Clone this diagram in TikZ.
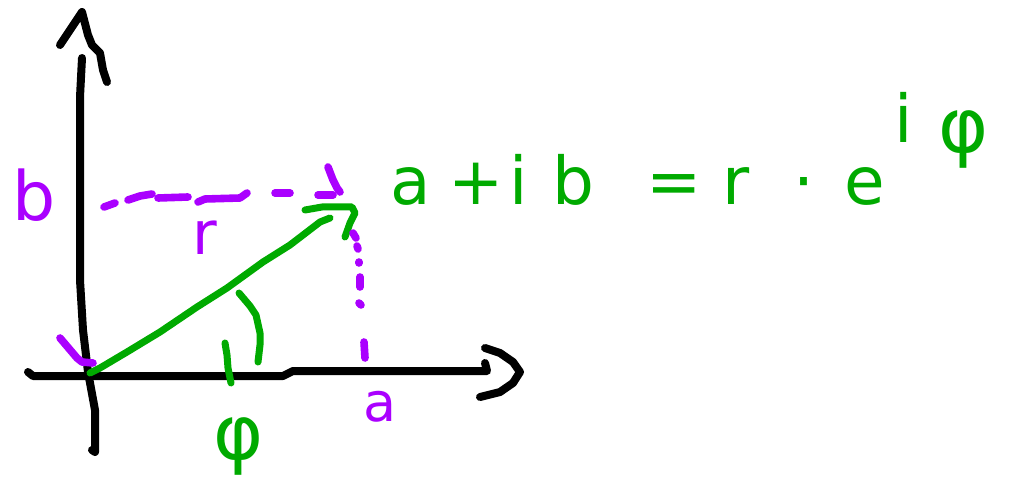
\documentclass[tikz,border=0pt]{standalone}
\usepackage{fontspec}
\setmainfont{DejaVu Sans}
\definecolor{hgreen}{RGB}{0,170,0}
\definecolor{hpurple}{RGB}{170,0,255}
\begin{document}
\begin{tikzpicture}[x=0.5pt,y=-0.5pt,line cap=round,line join=round,
  axisline/.style={draw=black,line width=4pt},
  vecline/.style={draw=hgreen,line width=3.5pt},
  guideline/.style={draw=hpurple,line width=3.8pt},
  lbl/.style={inner sep=0pt,outer sep=0pt}]
\useasboundingbox (0,0) rectangle (1015,480);
% vertical axis with arrowhead
\draw[axisline] (60,45) -- (82,12) -- (88,35) -- (92,45) -- (100,53) -- (103,70) -- (107,82);
\draw[axisline] (82,58) -- (80,97) -- (80,280) -- (83,330) -- (88,372) -- (95,410) -- (95,452) -- (92,450);
% horizontal axis with arrowhead
\draw[axisline] (28,372) -- (33,376) -- (283,376) -- (293,371) -- (487,371) -- (485,363);
\draw[axisline] (485,348) -- (500,353) -- (513,362) -- (520,372) -- (513,383) -- (500,392) -- (480,397);
% green vector
\draw[vecline] (90,373) -- (100,368) -- (127,352) -- (160,332) -- (197,307) -- (227,288) -- (263,262) -- (290,245) -- (320,222) -- (330,218);
\draw[vecline] (305,210) -- (322,207) -- (352,207) -- (355,213) -- (350,223) -- (345,237);
% angle arc and tick
\draw[vecline] (239,293) -- (250,306) -- (256,315) -- (260,333) -- (260,345) -- (258,362);
\draw[vecline] (225,343) -- (227,355) -- (228,368) -- (231,383);
% purple dashed horizontal guide
\draw[guideline] (104,207) -- (115,203);
\draw[guideline] (128,200) -- (140,196) -- (152,194);
\draw[guideline] (158,198) -- (188,197);
\draw[guideline] (198,202) -- (205,199) -- (240,198) -- (247,193);
\draw[guideline] (275,193) -- (290,193);
\draw[guideline] (318,195) -- (333,195);
\draw[guideline] (328,167) -- (333,180) -- (337,188) -- (340,192);
% purple dotted vertical guide
\draw[guideline] (353,233) -- (356,238);
\draw[guideline] (357,246) -- (358,249);
\draw[guideline] (359,262) -- (359,263);
\draw[guideline] (360,277) -- (360,287);
\draw[guideline] (359,303) -- (361,305);
\draw[guideline] (364,342) -- (365,358);
% purple origin mark
\draw[guideline] (60,338) -- (77,358) -- (82,362) -- (93,363);
% labels
\node[lbl,text=hpurple,font=\fontsize{34}{40}\selectfont] (lb) at (34,195) {b};
\node[lbl,text=hpurple,font=\fontsize{30}{36}\selectfont] (lr) at (205,238) {r};
\node[lbl,text=hpurple,font=\fontsize{27}{32}\selectfont] (la) at (380,407) {a};
\node[lbl,text=hgreen,font=\fontsize{38}{44}\selectfont] (lphi) at (239,446) {φ};
% equation
\node[lbl,text=hgreen,anchor=base west,font=\fontsize{33}{38}\selectfont] (eq) at (390,205)
  {a\hspace{9pt}+\hspace{3pt}i\hspace{12pt}b\hspace{26pt}=\hspace{10.5pt}r\hspace{22pt}·\hspace{15pt}e\hspace{4.5pt}\raisebox{31pt}{i}\hspace{13pt}\raisebox{26pt}{\fontsize{38}{44}\selectfont φ}};
\end{tikzpicture}
\end{document}
